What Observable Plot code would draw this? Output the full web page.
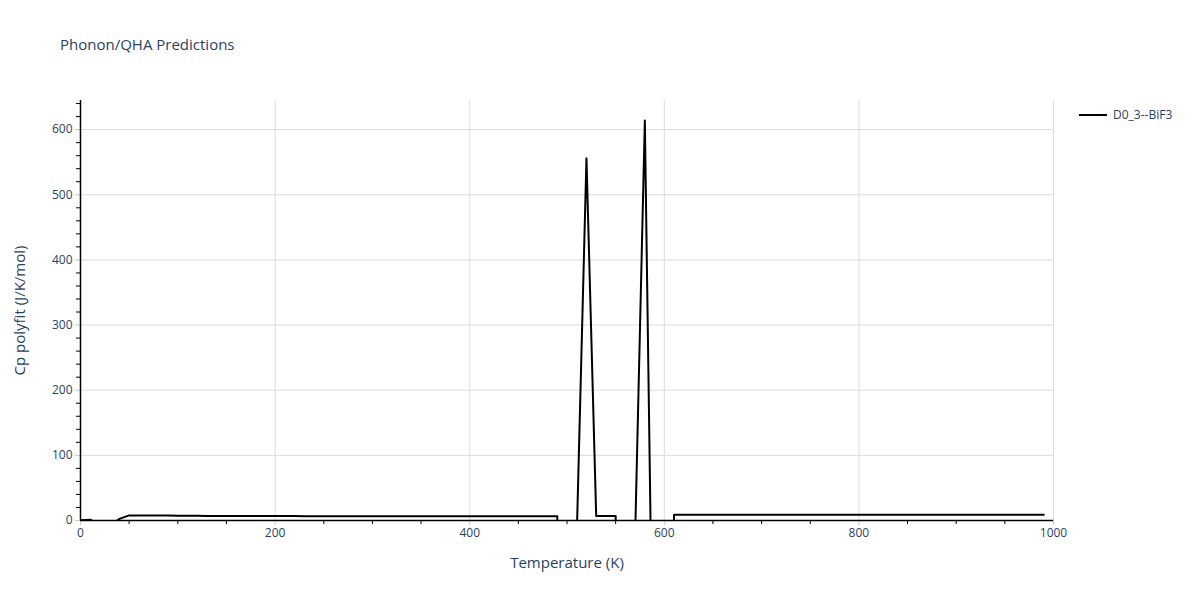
<!DOCTYPE html>
<html>
<head>
<meta charset="utf-8">
<script src="https://cdn.jsdelivr.net/npm/d3@7"></script>
<script src="https://cdn.jsdelivr.net/npm/@observablehq/plot@0.6"></script>
<style>
  body { margin: 0; background: #fff; font-family: "Open Sans", Verdana, Arial, sans-serif; }
  #wrap { position: relative; width: 1200px; height: 600px; }
  #title { position: absolute; left: 60px; top: 34px; font-size: 15px; color: #2a3f5f; }
  #legend { position: absolute; left: 1079px; top: 106px; font-size: 12px; color: #2a3f5f; display: flex; align-items: center; }
  #chart { position: absolute; left: 0; top: 0; }
</style>
</head>
<body>
<div id="wrap">
  <div id="chart"></div>
  <div id="title">Phonon/QHA Predictions</div>
  <div id="legend"><svg width="30" height="16"><line x1="0" x2="28" y1="8" y2="8" stroke="#000" stroke-width="2"/></svg><span style="margin-left:4px">D0_3--BiF3</span></div>
</div>
<script>
const seriesName = "D0_3--BiF3";
const temperature = d3.range(0, 1000, 10);
const cp = [
  0.5, 1.2, -6, -9, 2.5, 7.8, 7.8, 7.7, 7.6, 7.5,
  7.4, 7.3, 7.2, 7.1, 7.0, 7.0, 6.9, 6.9, 6.8, 6.8,
  6.8, 6.8, 6.8, 6.7, 6.7, 6.7, 6.7, 6.7, 6.7, 6.7,
  6.7, 6.7, 6.7, 6.7, 6.7, 6.7, 6.7, 6.7, 6.7, 6.7,
  6.7, 6.7, 6.7, 6.7, 6.7, 6.7, 6.7, 6.7, 6.7, 6.7,
  -2000, -25, 556, 6.8, 6.8, 6.8, -2000, -25, 614, -440,
  -2000, 8.7, 8.7, 8.7, 8.7, 8.7, 8.7, 8.7, 8.7, 8.7,
  8.7, 8.7, 8.7, 8.7, 8.7, 8.7, 8.7, 8.7, 8.7, 8.7,
  8.7, 8.7, 8.7, 8.7, 8.7, 8.7, 8.7, 8.7, 8.7, 8.7,
  8.7, 8.7, 8.7, 8.7, 8.7, 8.7, 8.7, 8.7, 8.7, 8.7
];
const xTicks = [0, 200, 400, 600, 800, 1000];
const yTicks = [0, 100, 200, 300, 400, 500, 600];
const xMinor = d3.range(0, 1001, 50).filter(v => v % 200 !== 0);
const yMinor = d3.range(0, 641, 20).filter(v => v % 100 !== 0);

const data = temperature.map((t, i) => ({T: t, cp: cp[i]}));
const yMax = 1.05 * d3.max(cp);
const tickColor = "#2a3f5f";

const plot = Plot.plot({
  width: 1200,
  height: 600,
  marginLeft: 80,
  marginRight: 147,
  marginTop: 100,
  marginBottom: 80,
  style: {fontFamily: "'Open Sans', Verdana, Arial, sans-serif", fontSize: "12px", color: tickColor, background: "transparent"},
  x: {domain: [0, 1000]},
  y: {domain: [0, yMax]},
  marks: [
    Plot.gridX(xTicks.filter(v => v > 0), {stroke: "#dcdcdc", strokeOpacity: 1}),
    Plot.gridY(yTicks.filter(v => v > 0), {stroke: "#dcdcdc", strokeOpacity: 1}),
    Plot.axisX(xTicks, {tickSize: 5, stroke: "#c8c8c8", tickPadding: 3, fontSize: 12, fill: tickColor, label: null, tickFormat: d => String(d)}),
    Plot.axisX(xMinor, {tickSize: 4, stroke: "#000", text: null, label: null}),
    Plot.axisY(yTicks, {tickSize: 5, stroke: "#c8c8c8", tickPadding: 3, fontSize: 12, fill: tickColor, label: null, tickFormat: d => String(d)}),
    Plot.axisY(yMinor, {tickSize: 4, stroke: "#000", text: null, label: null}),
    Plot.text([seriesName], {frameAnchor: "bottom", dy: 43, text: () => "Temperature (K)", fontSize: 15, fill: tickColor, lineAnchor: "middle", textAnchor: "middle"}),
    Plot.text([seriesName], {frameAnchor: "left", dx: -60, rotate: -90, text: () => "Cp polyfit (J/K/mol)", fontSize: 15, fill: tickColor, textAnchor: "middle", lineAnchor: "middle"}),
    Plot.line(data, {x: "T", y: "cp", stroke: "#000", strokeWidth: 2, clip: true}),
    Plot.ruleY([0], {stroke: "#000", strokeWidth: 1.5}),
    Plot.ruleX([0], {stroke: "#000", strokeWidth: 1.5})
  ]
});
document.getElementById("chart").appendChild(plot);
</script>
</body>
</html>
